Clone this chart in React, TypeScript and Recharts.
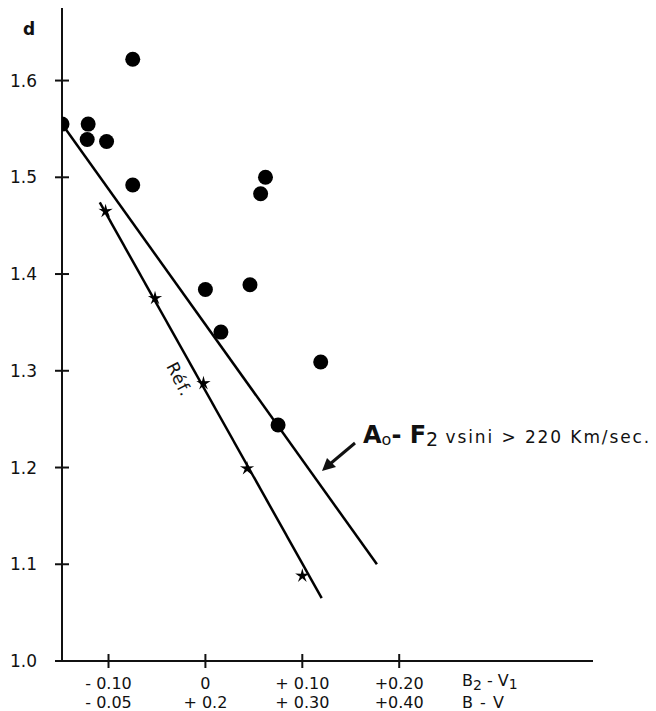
import { ScatterChart, Scatter, XAxis, YAxis, ReferenceLine } from "recharts"

// A0-F2 stars, vsini > 220 km/s (filled dots)
const dotX = [-0.148, -0.121, -0.122, -0.102, -0.075, -0.075, 0.0, 0.016, 0.046, 0.057, 0.062, 0.119, 0.075]
const dotD = [1.555, 1.555, 1.539, 1.537, 1.622, 1.492, 1.384, 1.34, 1.389, 1.483, 1.5, 1.309, 1.244]

// reference sequence (stars)
const refX = [-0.103, -0.052, -0.002, 0.043, 0.1]
const refD = [1.465, 1.375, 1.287, 1.199, 1.088]

// straight lines: [x1, d1, x2, d2]
const fitLine = [-0.148, 1.555, 0.177, 1.1]
const refLine = [-0.109, 1.474, 0.12, 1.065]

const xTicks = [-0.1, 0, 0.1, 0.2]
const xLabelsB2V1 = ["- 0.10", "0", "+ 0.10", "+0.20"]
const xLabelsBV = ["- 0.05", "+ 0.2", "+ 0.30", "+0.40"]
const yTicks = [1.0, 1.1, 1.2, 1.3, 1.4, 1.5, 1.6]

const dots = dotX.map((x, i) => ({ x, y: dotD[i] }))
const refPts = refX.map((x, i) => ({ x, y: refD[i] }))

const FONT = "'DejaVu Sans', sans-serif"

function YTick(props: any) {
  const { x, y, payload } = props
  return (
    <g>
      <line x1={x - 7} x2={x + 7} y1={y} y2={y} stroke="#111" strokeWidth={2} />
      <text x={x - 25} y={y + 6} textAnchor="end" fontSize={17} fontFamily={FONT} fill="#111">
        {payload.value.toFixed(1)}
      </text>
    </g>
  )
}

function XTick(props: any) {
  const { x, y, payload, index } = props
  return (
    <g>
      <line x1={x} x2={x} y1={y - 7} y2={y + 7} stroke="#111" strokeWidth={2} />
      <text x={x} y={y + 28} textAnchor="middle" fontSize={16} fontFamily={FONT} fill="#111">
        {xLabelsB2V1[index]}
      </text>
      <text x={x} y={y + 47} textAnchor="middle" fontSize={16} fontFamily={FONT} fill="#111">
        {xLabelsBV[index]}
      </text>
    </g>
  )
}

function Dot(props: any) {
  const { cx, cy } = props
  return <circle cx={cx} cy={cy} r={7.5} fill="#000" />
}

function Star(props: any) {
  const { cx, cy } = props
  const pts: string[] = []
  for (let k = 0; k < 10; k++) {
    const r = k % 2 === 0 ? 7.5 : 2.5
    const a = (Math.PI / 5) * k - Math.PI / 2
    pts.push(`${cx + r * Math.cos(a)},${cy + r * Math.sin(a)}`)
  }
  return <polygon points={pts.join(" ")} fill="#000" />
}

export default function App() {
  return (
    <div style={{ position: "absolute", left: 0, top: 0, width: 656, height: 711, background: "#fff" }}>
      <ScatterChart width={656} height={711} margin={{ top: 8, right: 63, bottom: 0, left: 2 }}>
        <XAxis
          type="number"
          dataKey="x"
          domain={[-0.148, 0.4]}
          ticks={xTicks}
          height={50}
          tickSize={0}
          tickMargin={0}
          tickLine={false}
          axisLine={{ stroke: "#111", strokeWidth: 2 }}
          tick={<XTick />}
          allowDataOverflow
        />
        <YAxis
          type="number"
          dataKey="y"
          domain={[1.0, 1.675]}
          ticks={yTicks}
          width={60}
          tickSize={0}
          tickMargin={0}
          tickLine={false}
          axisLine={{ stroke: "#111", strokeWidth: 2 }}
          tick={<YTick />}
          allowDataOverflow
        />
        <ReferenceLine
          segment={[{ x: fitLine[0], y: fitLine[1] }, { x: fitLine[2], y: fitLine[3] }]}
          stroke="#000"
          strokeWidth={2.5}
        />
        <ReferenceLine
          segment={[{ x: refLine[0], y: refLine[1] }, { x: refLine[2], y: refLine[3] }]}
          stroke="#000"
          strokeWidth={2.5}
        />
        <Scatter data={dots} shape={<Dot />} isAnimationActive={false} />
        <Scatter data={refPts} shape={<Star />} isAnimationActive={false} />
      </ScatterChart>
      <svg
        width={656}
        height={711}
        style={{ position: "absolute", left: 0, top: 0, pointerEvents: "none" }}
        fontFamily={FONT}
        fill="#111"
      >
        <text x={29} y={35} textAnchor="middle" fontSize={17} fontWeight="bold">d</text>
        <text x={174} y={382} textAnchor="middle" fontSize={17} transform="rotate(63 174 382)" letterSpacing={1}>
          Réf.
        </text>
        <text x={462} y={686} fontSize={16}>
          B<tspan fontSize={14} dy={4}>2</tspan>
          <tspan dy={-4}> - V</tspan>
          <tspan fontSize={14} dy={3}>1</tspan>
        </text>
        <text x={462} y={708} fontSize={16} letterSpacing={1}>B  - V</text>
        <text x={363} y={443} fontSize={24} fontWeight="bold">
          A<tspan fontSize={16} fontWeight="normal" dy={2}>o</tspan>
          <tspan dy={-2}>- F</tspan>
          <tspan fontSize={19} fontWeight="normal" dy={3}>2</tspan>
          <tspan fontSize={17} fontWeight="normal" dy={-3} letterSpacing={1.9}> vsini {">"} 220 Km/sec.</tspan>
        </text>
        <line x1={355} y1={443} x2={330} y2={464} stroke="#111" strokeWidth={3} />
        <polygon points="322,471 327,458 336,467" fill="#111" />
      </svg>
    </div>
  )
}
